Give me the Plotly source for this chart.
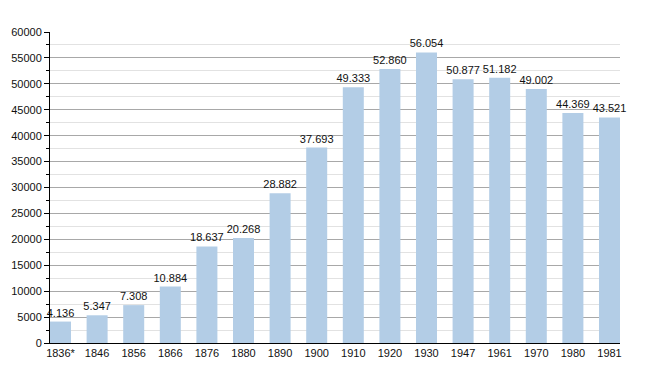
import plotly.graph_objects as go

years = ["1836*", "1846", "1856", "1866", "1876", "1880", "1890", "1900", "1910",
         "1920", "1930", "1947", "1961", "1970", "1980", "1981"]
population = [4136, 5347, 7308, 10884, 18637, 20268, 28882, 37693, 49333,
              52860, 56054, 50877, 51182, 49002, 44369, 43521]
labels = [f"{v:,}".replace(",", ".") for v in population]
y_ticks = list(range(0, 60001, 5000))

fig = go.Figure()
fig.add_trace(go.Bar(
    x=list(range(len(years))), y=population, text=labels,
    textposition="outside", cliponaxis=False, constraintext="none",
    textfont=dict(size=11, color="#111111", family="Liberation Sans, Arial"),
    marker=dict(color="#b3cde6", line=dict(width=0)),
    width=0.574,
))
# page body has an 8px margin: figure sits at (8,8)
fig.update_layout(
    width=634, height=357,
    margin=dict(l=42, r=22, t=24, b=22, autoexpand=False),
    plot_bgcolor="white", paper_bgcolor="white",
    showlegend=False,
    font=dict(family="Liberation Sans, Arial", size=11, color="#111111"),
    xaxis=dict(
        tickmode="array", tickvals=list(range(len(years))), ticktext=years,
        range=[-0.287, 15.287], showline=True, linecolor="black", linewidth=1,
        showgrid=False, ticks="", zeroline=False, tickfont=dict(size=11),
        automargin=False,
    ),
    yaxis=dict(
        range=[0, 60000], tickvals=y_ticks, ticktext=[str(v) for v in y_ticks],
        showline=True, linecolor="black", linewidth=1,
        ticks="outside", ticklen=5, tickcolor="black",
        gridcolor="#a8a8a8", gridwidth=1, zeroline=False,
        minor=dict(dtick=2500, showgrid=True, gridcolor="#e2e2e2",
                   ticks="outside", ticklen=3, tickcolor="black"),
        tickfont=dict(size=11), automargin=False,
    ),
)
fig.write_html("out.html")
